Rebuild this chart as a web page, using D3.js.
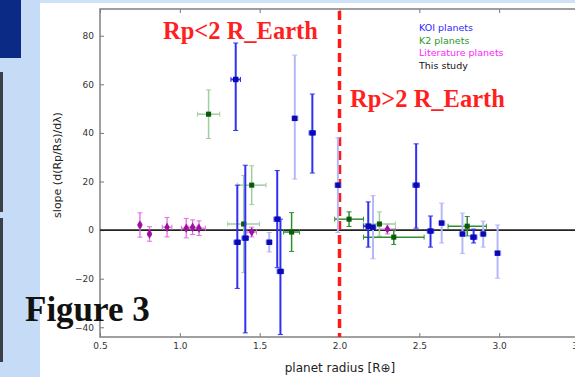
<!DOCTYPE html>
<html>
<head>
<meta charset="utf-8">
<script src="https://cdn.jsdelivr.net/npm/d3@7"></script>
<style>
  html, body { margin: 0; padding: 0; background: #fff; }
  svg { display: block; }
</style>
</head>
<body>
<svg id="chart" width="575" height="377"></svg>
<script>
// Transmission-spectrum slope versus planet radius

// KOI planets
const koiRadius = [1.35, 1.72, 1.83, 1.99, 1.36, 1.41, 1.56, 1.61, 1.63, 2.18, 2.21, 2.48, 2.57, 2.64, 2.77, 2.84, 2.90, 2.99];
const koiSlope  = [62, 46, 40, 18.5, -5, -3.3, -5, 4.5, -17, 1.6, 1.2, 18.5, -0.4, 2.9, -1.6, -2.9, -1.6, -9.5];
const koiErrHi  = [15, 26, 16, 19.5, 23.5, 30, 4, 20, 21.5, 10, 13, 17, 6.2, 8.2, 8.6, 3.3, 5.3, 11.6];
const koiErrLo  = [21, 25, 16.5, 19.5, 19, 39, 4, 20, 26, 8.6, 13, 17.7, 6.6, 8.2, 8, 2.4, 5.4, 10.3];
const koiRadErr = [0.03, 0.02, 0.02, 0.02, 0.02, 0.02, 0.02, 0.02, 0.02, 0.03, 0.02, 0.02, 0.02, 0.02, 0.02, 0.02, 0.02, 0.02];
const koiLowSNR = [false, true, false, true, false, false, true, false, false, false, true, false, false, true, true, false, true, true];

// K2 planets
const k2Radius = [1.18, 1.45, 1.40, 1.70, 2.06, 2.25, 2.34, 2.80];
const k2Slope  = [47.7, 18.5, 2.5, -0.8, 4.5, 2.5, -2.9, 1.6];
const k2Err    = [10, 8, 20, 8, 3, 5, 3, 4];
const k2RadErr = [0.07, 0.09, 0.10, 0.05, 0.09, 0.10, 0.19, 0.12];
const k2LowSNR = [true, true, true, false, false, true, false, false];

// Literature planets
const litRadius = [0.75, 0.81, 0.92, 1.04, 1.08, 1.12, 1.45, 2.30];
const litSlope  = [2.1, -1.6, 1.2, 0.8, 1.2, 0.8, -0.8, 0.4];
const litErr    = [5, 3, 4, 4, 3, 3, 2, 2];
const litRadErr = [0.01, 0.01, 0.03, 0.03, 0.03, 0.04, 0.03, 0.05];

const legendLabels = ["KOI planets", "K2 planets", "Literature planets", "This study"];
const xTicks = [0.5, 1.0, 1.5, 2.0, 2.5, 3.0, 3.5];
const yTicks = [-40, -20, 0, 20, 40, 60, 80];
const radiusSplit = 2.0;

const svg = d3.select("#chart");

// slide backdrop around the figure
svg.append("rect").attr("x", 0).attr("y", 0).attr("width", 575).attr("height", 377).attr("fill", "#ffffff");
svg.append("rect").attr("x", 0).attr("y", 0).attr("width", 575).attr("height", 3).attr("fill", "#cfe2f8");
svg.append("rect").attr("x", 0).attr("y", 0).attr("width", 40).attr("height", 377).attr("fill", "#c6dcf6");
svg.append("rect").attr("x", 0).attr("y", 0).attr("width", 21).attr("height", 58).attr("fill", "#0b2a86");
svg.append("rect").attr("x", 0).attr("y", 72).attr("width", 3).attr("height", 140).attr("fill", "#3a3f4a");
svg.append("rect").attr("x", 0).attr("y", 218).attr("width", 3).attr("height", 144).attr("fill", "#3a3f4a");

const x = d3.scaleLinear().domain([0.5, 3.5]).range([100, 579]);
const y = d3.scaleLinear().domain([-44, 91]).range([337, 9]);

const plot = svg.append("g");

// axes with inward ticks on all four sides
const tickFont = "DejaVu Sans, sans-serif";
function styleAxis(g) {
  g.select(".domain").remove();
  g.selectAll(".tick line").attr("stroke", "#777").attr("stroke-width", 1);
  g.selectAll(".tick text").attr("fill", "#333").attr("font-family", tickFont).attr("font-size", 9);
}
plot.append("g").attr("transform", `translate(0,${y.range()[0]})`)
  .call(d3.axisBottom(x).tickValues(xTicks).tickFormat(d3.format(".1f")).tickSizeInner(-4).tickSizeOuter(0).tickPadding(6))
  .call(styleAxis);
plot.append("g").attr("transform", `translate(0,${y.range()[1]})`)
  .call(d3.axisTop(x).tickValues(xTicks).tickFormat("").tickSizeInner(-4).tickSizeOuter(0))
  .call(styleAxis);
plot.append("g").attr("transform", `translate(${x.range()[0]},0)`)
  .call(d3.axisLeft(y).tickValues(yTicks).tickFormat(d3.format("d")).tickSizeInner(-4).tickSizeOuter(0).tickPadding(6))
  .call(styleAxis);
plot.append("g").attr("transform", `translate(${x.range()[1]},0)`)
  .call(d3.axisRight(y).tickValues(yTicks).tickFormat("").tickSizeInner(-4).tickSizeOuter(0))
  .call(styleAxis);

// frame
plot.append("rect")
  .attr("x", x.range()[0]).attr("y", y.range()[1])
  .attr("width", x.range()[1] - x.range()[0]).attr("height", y.range()[0] - y.range()[1])
  .attr("fill", "none").attr("stroke", "#808080").attr("stroke-width", 1.5);

// zero-slope reference
plot.append("line")
  .attr("x1", x.range()[0]).attr("x2", x.range()[1])
  .attr("y1", y(0)).attr("y2", y(0))
  .attr("stroke", "#222").attr("stroke-width", 1.6);

// 2 Earth-radius divide
plot.append("line")
  .attr("x1", x(radiusSplit)).attr("x2", x(radiusSplit))
  .attr("y1", y.range()[1] + 2).attr("y2", y.range()[0])
  .attr("stroke", "#ff1a1a").attr("stroke-width", 3.5).attr("stroke-dasharray", "9,5");

// error bars + markers
const clampY = v => Math.max(y.domain()[0], Math.min(y.domain()[1], v));
function drawSeries(rows, opt) {
  const g = plot.append("g");
  rows.forEach(d => {
    const bar = d.faint ? opt.faintBar : opt.bar;
    const yHi = y(clampY(d.s + d.hi)), yLo = y(clampY(d.s - d.lo));
    g.append("line").attr("x1", x(d.r)).attr("x2", x(d.r)).attr("y1", yHi).attr("y2", yLo)
      .attr("stroke", bar).attr("stroke-width", opt.width);
    [d.s + d.hi, d.s - d.lo].forEach(v => {
      if (v > y.domain()[0] && v < y.domain()[1]) {
        g.append("line").attr("x1", x(d.r) - 2.5).attr("x2", x(d.r) + 2.5).attr("y1", y(v)).attr("y2", y(v))
          .attr("stroke", bar).attr("stroke-width", 1);
      }
    });
    if (d.re > 0) {
      g.append("line").attr("x1", x(d.r - d.re)).attr("x2", x(d.r + d.re)).attr("y1", y(d.s)).attr("y2", y(d.s))
        .attr("stroke", bar).attr("stroke-width", opt.width);
      [d.r - d.re, d.r + d.re].forEach(v => {
        g.append("line").attr("x1", x(v)).attr("x2", x(v)).attr("y1", y(d.s) - 2.5).attr("y2", y(d.s) + 2.5)
          .attr("stroke", bar).attr("stroke-width", 1);
      });
    }
  });
  g.selectAll("path.pt").data(rows).join("path").attr("class", "pt")
    .attr("transform", d => `translate(${x(d.r)},${y(d.s)})`)
    .attr("d", d3.symbol().type(opt.symbol).size(opt.size))
    .attr("fill", opt.marker);
}

const koiRows = koiRadius.map((r, i) => ({ r, s: koiSlope[i], hi: koiErrHi[i], lo: koiErrLo[i], re: koiRadErr[i], faint: koiLowSNR[i] }));
const k2Rows = k2Radius.map((r, i) => ({ r, s: k2Slope[i], hi: k2Err[i], lo: k2Err[i], re: k2RadErr[i], faint: k2LowSNR[i] }));
const litRows = litRadius.map((r, i) => ({ r, s: litSlope[i], hi: litErr[i], lo: litErr[i], re: litRadErr[i], faint: false }));

drawSeries(litRows, { bar: "#e070e0", faintBar: "#f0b0f0", marker: "#a010a0", symbol: d3.symbolDiamond, size: 26, width: 1.3 });
drawSeries(k2Rows, { bar: "#2f8f2f", faintBar: "#9fcf9f", marker: "#0a5a0a", symbol: d3.symbolSquare, size: 26, width: 1.5 });
drawSeries(koiRows, { bar: "#3030f4", faintBar: "#b4b8fa", marker: "#0a0ab4", symbol: d3.symbolSquare, size: 30, width: 2 });

// region labels
const redFont = "Liberation Serif, DejaVu Serif, serif";
svg.append("text").attr("x", 163).attr("y", 39).text("Rp<2 R_Earth")
  .attr("font-family", redFont).attr("font-weight", "bold").attr("font-size", 24.5).attr("fill", "#ff1f1f");
svg.append("text").attr("x", 350).attr("y", 107).text("Rp>2 R_Earth")
  .attr("font-family", redFont).attr("font-weight", "bold").attr("font-size", 24.5).attr("fill", "#ff1f1f");

// legend (text only)
const legendColors = ["#2a2aff", "#2a9a2a", "#ff22ff", "#111111"];
svg.append("g").selectAll("text").data(legendLabels).join("text")
  .attr("x", 419).attr("y", (d, i) => 31 + i * 12.5)
  .text(d => d).attr("fill", (d, i) => legendColors[i])
  .attr("font-family", "DejaVu Sans, sans-serif").attr("font-size", 9.5);

// axis titles
svg.append("text").attr("x", 340).attr("y", 372).attr("text-anchor", "middle")
  .text("planet radius [R\u2295]").attr("fill", "#222")
  .attr("font-family", "DejaVu Sans, sans-serif").attr("font-size", 12);
svg.append("text").attr("transform", "translate(61,165) rotate(-90)").attr("text-anchor", "middle")
  .text("slope (d(Rp/Rs)/d\u03bb)").attr("fill", "#222")
  .attr("font-family", "DejaVu Sans, sans-serif").attr("font-size", 11);

// figure caption
svg.append("text").attr("x", 25).attr("y", 321).text("Figure 3")
  .attr("font-family", redFont).attr("font-weight", "bold").attr("font-size", 35).attr("fill", "#111");
</script>
</body>
</html>
